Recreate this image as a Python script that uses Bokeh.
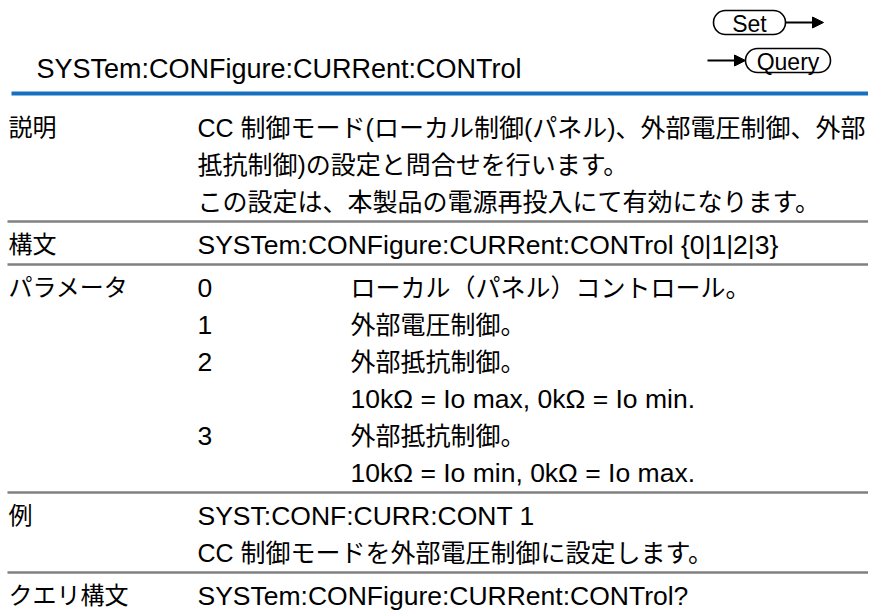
from bokeh.plotting import figure
from bokeh.models import Range1d, Arrow, NormalHead, ColumnDataSource
from bokeh.core.properties import value
from bokeh.embed import file_html
from bokeh.resources import INLINE

# ---------------- content ----------------
title_text = "SYSTem:CONFigure:CURRent:CONTrol"
set_label = "Set"
query_label = "Query"

section_labels = ["説明", "構文", "パラメータ", "例", "クエリ構文"]
desc_lines = [
    "CC 制御モード(ローカル制御(パネル)、外部電圧制御、外部",
    "抵抗制御)の設定と問合せを行います。",
    "この設定は、本製品の電源再投入にて有効になります。",
]
syntax_lines = ["SYSTem:CONFigure:CURRent:CONTrol {0|1|2|3}"]
param_values = ["0", "1", "2", "3"]
param_descs = [
    ["ローカル（パネル）コントロール。"],
    ["外部電圧制御。"],
    ["外部抵抗制御。", "10kΩ = Io max, 0kΩ = Io min."],
    ["外部抵抗制御。", "10kΩ = Io min, 0kΩ = Io max."],
]
example_lines = ["SYST:CONF:CURR:CONT 1", "CC 制御モードを外部電圧制御に設定します。"]
query_lines = ["SYSTem:CONFigure:CURRent:CONTrol?"]

# ---------------- layout / style ----------------
FONT = "Liberation Sans, Noto Sans CJK JP"
TITLE_SIZE = "27px"
LATIN_SIZE = "26.5px"
CJK_SIZE = "25px"
LABEL_SIZE = "24px"
TEXT_COLOR = "#000000"
BLUE = "#1570c0"
GREY = "#808080"

W, H = 868, 612
LABEL_X = 8
COL1_X = 197
COL2_X = 350
PITCH = 37
FIRST_Y = 127
PAD_TOP = 23
PAD_BOTTOM = 20
RULE_X0, RULE_X1 = 7, 870


def is_cjk(s):
    return any(ord(c) > 0x2000 and c != "Ω" for c in s)


p = figure(width=W, height=H, x_range=Range1d(0, W), y_range=Range1d(H, 0),
           toolbar_location=None, output_backend="svg", min_border=0)
p.axis.visible = False
p.xgrid.visible = False
p.ygrid.visible = False
p.outline_line_color = None
p.background_fill_color = "white"
p.border_fill_color = "white"

latin = dict(x=[], y=[], text=[])
cjk = dict(x=[], y=[], text=[])
labels = dict(x=[], y=[], text=[])


def put(x, y, t):
    d = cjk if is_cjk(t) else latin
    d["x"].append(x)
    d["y"].append(y)
    d["text"].append(t)


param_rows = []
for v, ds in zip(param_values, param_descs):
    for k, d in enumerate(ds):
        param_rows.append((v if k == 0 else None, d))

sections = [[(l, None) for l in desc_lines],
            [(l, None) for l in syntax_lines],
            param_rows,
            [(l, None) for l in example_lines],
            [(l, None) for l in query_lines]]

rules_y = []
y = FIRST_Y
for si, (lab, rows) in enumerate(zip(section_labels, sections)):
    labels["x"].append(LABEL_X)
    labels["y"].append(y)
    labels["text"].append(lab)
    for ri, (c1, c2) in enumerate(rows):
        yy = y + ri * PITCH
        if c1 is not None:
            put(COL1_X, yy, c1)
        if c2 is not None:
            put(COL2_X, yy, c2)
    last = y + (len(rows) - 1) * PITCH
    if si < len(sections) - 1:
        ry = last + PAD_BOTTOM
        rules_y.append(ry)
        y = ry + PAD_TOP

p.segment(x0=[RULE_X0] * len(rules_y), x1=[RULE_X1] * len(rules_y), y0=rules_y, y1=rules_y,
          line_color=GREY, line_width=2.5)
p.segment(x0=[11], x1=[870], y0=[93], y1=[93], line_color=BLUE, line_width=4)

p.text(x=[36], y=[68], text=[title_text], text_font=value(FONT), text_font_size=TITLE_SIZE,
       text_color=TEXT_COLOR, text_baseline="middle", text_align="left")

p.text(x="x", y="y", text="text", source=ColumnDataSource(labels), text_font=value(FONT),
       text_font_size=LABEL_SIZE, text_color=TEXT_COLOR, text_baseline="middle", text_align="left")
p.text(x="x", y="y", text="text", source=ColumnDataSource(latin), text_font=value(FONT),
       text_font_size=LATIN_SIZE, text_color=TEXT_COLOR, text_baseline="middle", text_align="left")
p.text(x="x", y="y", text="text", source=ColumnDataSource(cjk), text_font=value(FONT),
       text_font_size=CJK_SIZE, text_color=TEXT_COLOR, text_baseline="middle", text_align="left")

p.rect(x=[749, 787.5], y=[22, 60], width=[72, 85], height=[24, 24], fill_color="white",
       line_color="black", line_width=1.6, border_radius=12)
p.text(x=[749, 787.5], y=[23, 61], text=[set_label, query_label], text_font=value("Liberation Sans"),
       text_font_size="23px", text_color="black", text_baseline="middle", text_align="center")
p.add_layout(Arrow(end=NormalHead(size=11, fill_color="black", line_color="black"),
                   x_start=785, y_start=22, x_end=823, y_end=22, line_width=2, line_color="black"))
p.add_layout(Arrow(end=NormalHead(size=11, fill_color="black", line_color="black"),
                   x_start=707, y_start=60, x_end=745, y_end=60, line_width=2, line_color="black"))

open("out.html", "w").write(file_html(p, INLINE))
